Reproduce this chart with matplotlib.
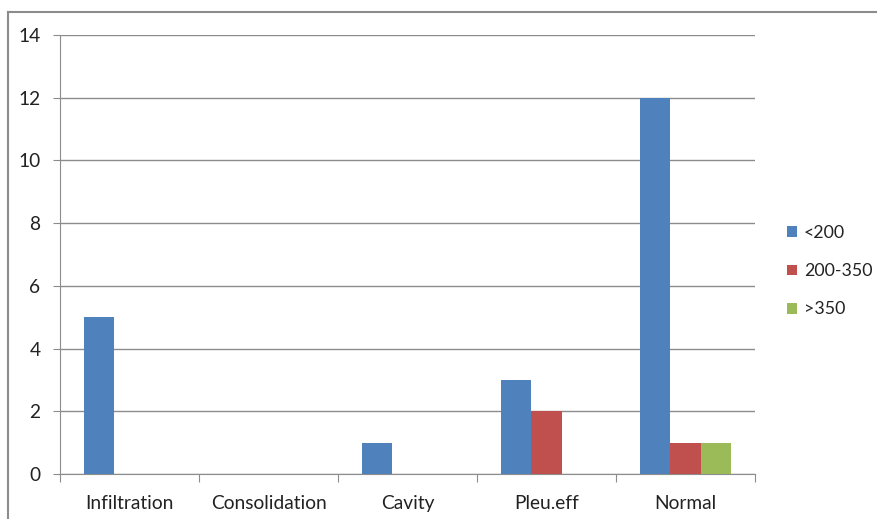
import matplotlib
matplotlib.use("Agg")
import matplotlib.pyplot as plt
from matplotlib.lines import Line2D
from matplotlib.patches import Patch
import numpy as np

categories = ["Infiltration", "Consolidation", "Cavity", "Pleu.eff", "Normal"]
series_names = ["<200", "200-350", ">350"]
lt200 = [5, 0, 1, 3, 12]
mid = [0, 0, 0, 2, 1]
gt350 = [0, 0, 0, 0, 1]
colors = ["#4F81BD", "#C0504D", "#9BBB59"]

plt.rcParams["font.family"] = ["Lato", "DejaVu Sans"]
fs = 13.8

fig = plt.figure(figsize=(8.78, 5.19), dpi=100)
ax = fig.add_axes([60 / 878, 45 / 519, 695 / 878, 439 / 519])

x = np.arange(len(categories))
w = 0.216
for i, (vals, c) in enumerate(zip([lt200, mid, gt350], colors)):
    ax.bar(x + (i - 1) * w, vals, width=w, color=c, zorder=3, linewidth=0)

ax.set_xlim(-0.5, len(categories) - 0.5)
ax.set_ylim(0, 14)
ax.set_yticks(range(0, 15, 2))
ax.yaxis.grid(True, color="#8c8c8c", linewidth=1, zorder=0)
for s in ["top", "right"]:
    ax.spines[s].set_visible(False)
ax.spines["left"].set_color("#8c8c8c")
ax.spines["bottom"].set_color("#8c8c8c")

# category labels between boundary tick marks
ax.set_xticks(np.arange(-0.5, len(categories)), minor=False)
ax.set_xticklabels([])
ax.set_xticks(x, minor=True)
ax.set_xticklabels(categories, minor=True)
ax.tick_params(axis="x", which="major", length=6, color="#8c8c8c", direction="out")
ax.tick_params(axis="x", which="minor", length=0, pad=15, labelsize=fs, labelcolor="#222222")
ax.tick_params(axis="y", length=5, color="#8c8c8c", pad=9, labelsize=fs, labelcolor="#222222")

handles = [Patch(facecolor=c, edgecolor="none") for c in colors]
fig.legend(handles, series_names, loc="upper left",
           bbox_to_anchor=(771 / 878, 1 - 209 / 519), frameon=False,
           fontsize=12.8, handlelength=0.55, handleheight=0.55,
           handletextpad=0.4, labelspacing=1.25, labelcolor="#222222")

# chart frame
fig.add_artist(Line2D([8 / 878, 8 / 878], [0, 1 - 12 / 519], color="#8c8c8c", linewidth=1.5))
fig.add_artist(Line2D([8 / 878, 1], [1 - 12 / 519, 1 - 12 / 519], color="#8c8c8c", linewidth=1.5))

fig.savefig("out.png", dpi=100, facecolor="white")
